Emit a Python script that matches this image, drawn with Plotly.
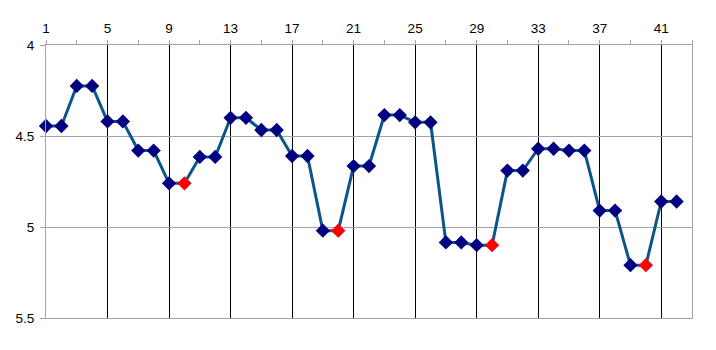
import plotly.graph_objects as go

x_values = list(range(1, 43))
y_values = [4.445, 4.445, 4.225, 4.225, 4.42, 4.42, 4.58, 4.58, 4.76, 4.76,
            4.615, 4.615, 4.40, 4.40, 4.467, 4.467, 4.61, 4.61, 5.02, 5.02,
            4.665, 4.665, 4.385, 4.385, 4.425, 4.425, 5.085, 5.085, 5.10, 5.10,
            4.69, 4.69, 4.57, 4.57, 4.58, 4.58, 4.91, 4.91, 5.21, 5.21,
            4.86, 4.86]
highlight_x = [10, 20, 30, 40]

marker_colors = ["#ff0000" if x in highlight_x else "#000080" for x in x_values]

fig = go.Figure()
fig.add_trace(go.Scatter(
    x=x_values, y=y_values, mode="lines+markers",
    line=dict(color="#0b5688", width=3),
    marker=dict(symbol="diamond", size=11, color=marker_colors,
                line=dict(width=0)),
    showlegend=False, cliponaxis=False,
))

grid_gray = "#a8a0ac"
fig.update_layout(
    width=716, height=350,
    margin=dict(l=46, r=24, t=45, b=32),
    paper_bgcolor="white", plot_bgcolor="white",
    font=dict(family="Liberation Sans, Arial, sans-serif", size=13.5, color="black"),
    xaxis=dict(
        side="top", range=[1, 43], tick0=1, dtick=4,
        showgrid=True, gridcolor="black", gridwidth=1,
        showline=True, linecolor=grid_gray, linewidth=1, mirror=True,
        ticks="outside", ticklen=4, tickcolor=grid_gray,
        minor=dict(ticks="outside", dtick=2, tick0=1, ticklen=4,
                   tickcolor=grid_gray, showgrid=False),
        zeroline=False, ticklabelstandoff=2, automargin=False,
    ),
    yaxis=dict(
        range=[5.5, 4], tick0=4, dtick=0.5,
        showgrid=True, gridcolor=grid_gray, gridwidth=1,
        showline=True, linecolor=grid_gray, linewidth=1, mirror=True,
        ticks="outside", ticklen=5, tickcolor=grid_gray,
        zeroline=False, ticklabelstandoff=3, automargin=False,
        tickvals=[4, 4.5, 5, 5.5], ticktext=["4", "4.5", "5", "5.5"],
    ),
)

fig.write_html("out.html")
